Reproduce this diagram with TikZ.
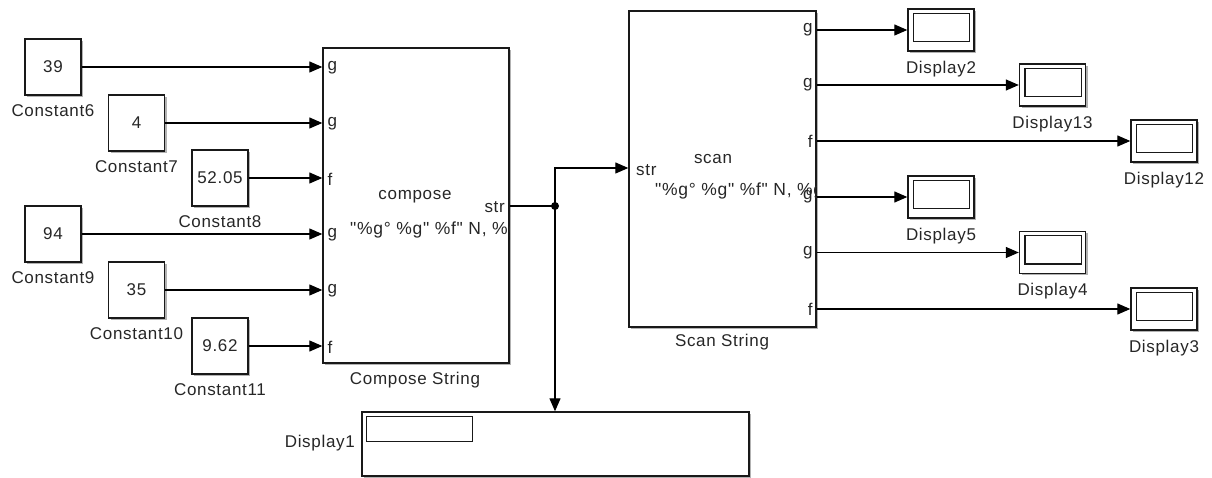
\documentclass[tikz,border=0pt]{standalone}
\usepackage{fontspec}
\setmainfont{Liberation Sans}[Ligatures=TeXOff, LetterSpace=4]
\usetikzlibrary{arrows.meta,shadows,calc}
\begin{document}
\begin{tikzpicture}[x=1pt,y=-1pt,
  every node/.style={font=\fontsize{17}{19}\selectfont, text=black!85, inner sep=0pt},
  blk/.style={draw=black!90, line width=1.4pt, fill=white,
    general shadow={fill=black!30, shadow xshift=2pt, shadow yshift=-2pt}},
  constblk/.style={blk, minimum width=56pt, minimum height=56pt},
  dispblk/.style={blk, minimum width=66pt, minimum height=42pt},
  blkcap/.style={below=9pt},
  conn/.style={draw=black, line width=1.2pt, -{Triangle[length=13pt,width=11pt]}},
  plain/.style={draw=black, line width=1.2pt},
  port/.style={font=\fontsize{17}{19}\selectfont},
  fmt/.style={font=\fontsize{17.5}{19}\selectfont}
]
\useasboundingbox (0,0) rectangle (1212,478);

% Constants
\node[constblk, label={[blkcap]below:Constant6}]  (c6)  at (53,67)    {39};
\node[constblk, label={[blkcap]below:Constant7}]  (c7)  at (136.5,123) {4};
\node[constblk, label={[blkcap]below:Constant8}]  (c8)  at (220,178)  {52.05};
\node[constblk, label={[blkcap]below:Constant9}]  (c9)  at (53,234)   {94};
\node[constblk, label={[blkcap]below:Constant10}] (c10) at (136.5,290) {35};
\node[constblk, label={[blkcap]below:Constant11}] (c11) at (220,346)  {9.62};

% Compose String
\node[blk, minimum width=186pt, minimum height=315pt] (comp) at (416,205.5) {};
\node (compcap) at (415,380) {Compose String};
\node (compname) at (415,197) {compose};
\begin{scope}
  \clip (comp.north west) rectangle (comp.south east);
  \node[fmt, anchor=west] (compfmt) at (350,230) {"\%g° \%g" \%f" N, \%g° \%g" \%f" W"};
\end{scope}
\foreach \n/\l in {c6/g,c7/g,c8/f,c9/g,c10/g,c11/f}{
  \draw[conn] (\n.east) -- (\n.east -| comp.west);
  \node[port, anchor=west] at ($(\n.east -| comp.west)+(5,1)$) {\l};
}
\node[port, anchor=east] (compout) at (505,207) {str};

% Scan String
\node[blk, minimum width=187pt, minimum height=316pt] (scan) at (722.5,169) {};
\node (scancap) at (722,342) {Scan String};
\node (scanname) at (713,159) {scan};
\begin{scope}
  \clip (scan.north west) rectangle (scan.south east);
  \node[fmt, anchor=west] (scanfmt) at (655,191) {"\%g° \%g" \%f" N, \%g° \%g" \%f" W"};
\end{scope}
\node[port, anchor=west] (scanin) at (636,170) {str};

% junction and string connectors
\coordinate (j) at (555,206);
\coordinate (jt) at (555,168);
\draw[plain] (comp.east |- j) -- (j);
\fill (j) circle (4pt);
\draw[conn] (j) -- (jt) -- (jt -| scan.west);

% Display1
\node[blk, minimum width=387pt, minimum height=64pt] (d1) at (555.5,444) {};
\draw[line width=1.4pt, draw=black!90] ($(d1.north west)+(5,5)$) rectangle ++(106,25);
\node[anchor=east] (d1lab) at (355,443) {Display1};
\draw[conn] (j) -- (j |- d1.north);

% Scan outputs to displays
\node[dispblk, label={[blkcap]below:Display2}]  (d2)  at (941,30)     {};
\node[dispblk, label={[blkcap]below:Display13}] (d13) at (1052.5,85)  {};
\node[dispblk, label={[blkcap]below:Display12}] (d12) at (1164,141)   {};
\node[dispblk, label={[blkcap]below:Display5}]  (d5)  at (941,197)    {};
\node[dispblk, label={[blkcap]below:Display4}]  (d4)  at (1052.5,252.5) {};
\node[dispblk, label={[blkcap]below:Display3}]  (d3)  at (1164,309)   {};
\foreach \d/\l in {d2/g,d13/g,d12/f,d5/g,d4/g,d3/f}{
  \draw[line width=1.4pt, draw=black!90] ($(\d.north west)+(6,5)$) rectangle ($(\d.south east)+(-5,-10)$);
  \draw[conn] (\d.west -| scan.east) -- (\d.west);
  \node[port, anchor=east] at ($(\d.west -| scan.east)+(-4,0)$) {\l};
}
\end{tikzpicture}
\end{document}
